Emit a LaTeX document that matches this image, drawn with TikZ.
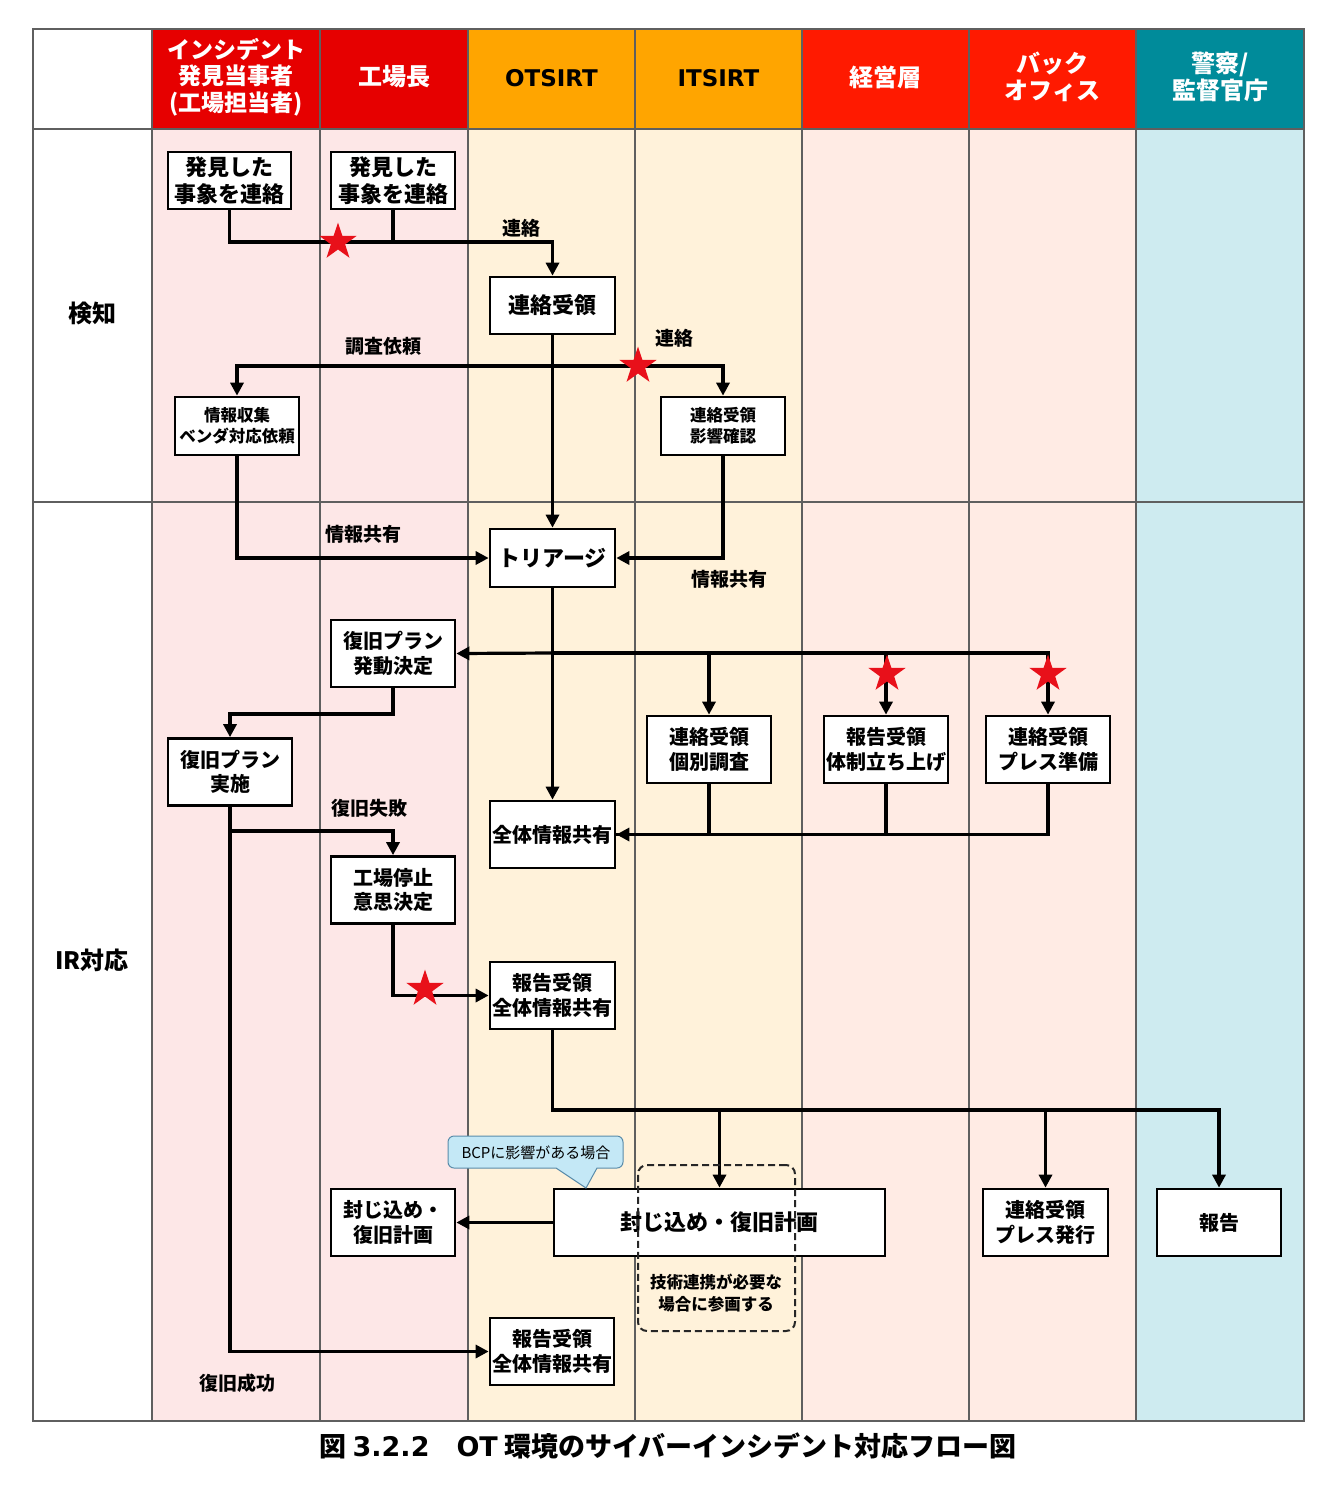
\documentclass[tikz,border=0pt]{standalone}
\usepackage{fontspec}
\newfontfamily\jp{Noto Sans CJK JP}
\newfontfamily\dv{DejaVu Sans}
\usetikzlibrary{arrows.meta,shapes.geometric}
\newcommand\fsz[2]{\fontsize{#1}{#2}\selectfont}
\definecolor{hred}{RGB}{230,0,0}
\definecolor{hredb}{RGB}{255,26,0}
\definecolor{horange}{RGB}{255,165,0}
\definecolor{hteal}{RGB}{0,139,154}
\definecolor{bpink}{RGB}{253,231,231}
\definecolor{bcream}{RGB}{255,242,218}
\definecolor{bsalmon}{RGB}{255,235,228}
\definecolor{bblue}{RGB}{206,235,240}
\definecolor{gridc}{RGB}{95,95,95}
\definecolor{starred}{RGB}{232,16,26}
\definecolor{calfill}{RGB}{196,232,246}
\definecolor{calborder}{RGB}{90,140,170}
\begin{document}
\begin{tikzpicture}[x=1pt,y=-1pt,
  hdrw/.style={font=\jp\bfseries\fsz{23}{26.5}, text=white, align=center},
  hdrk/.style={font=\dv\bfseries\fsz{23}{26}, text=black, align=center},
  rowlbl/.style={font=\jp\bfseries\fsz{24}{28}},
  boxst/.style={draw=black, line width=2.7pt, fill=white, align=center, inner sep=0pt,
                minimum width=124, minimum height=67, font=\jp\bfseries\fsz{20}{24.5}},
  smallbox/.style={boxst, minimum height=58, font=\jp\bfseries\fsz{16.5}{21}},
  lbl/.style={font=\jp\bfseries\fsz{19}{22}},
  conn/.style={line width=3.2pt},
  flow/.style={conn, -{Triangle[length=13pt,width=13pt]}},
  starmark/.style={star, star points=5, star point ratio=2.6, fill=starred, draw=none,
                   minimum size=39pt, inner sep=0pt},
  gridline/.style={draw=gridc, line width=1.2pt}
]
\useasboundingbox (0,0) rectangle (1336,1486);
\fill[white] (0,0) rectangle (1336,1486);

% ---- lane fills ----
\fill[white]   (33,29) rectangle (152,1421);
\fill[hred]    (152,29) rectangle (468,129);
\fill[horange] (468,29) rectangle (802,129);
\fill[hredb]   (802,29) rectangle (1136,129);
\fill[hteal]   (1136,29) rectangle (1304,129);
\fill[bpink]   (152,129) rectangle (468,1421);
\fill[bcream]  (468,129) rectangle (802,1421);
\fill[bsalmon] (802,129) rectangle (1136,1421);
\fill[bblue]   (1136,129) rectangle (1304,1421);

% ---- grid ----
\foreach \xx in {152,320,468,635,802,969,1136}
  \draw[gridline] (\xx,29) -- (\xx,1421);
\draw[gridline] (33,129) -- (1304,129);
\draw[gridline] (33,502) -- (1304,502);
\draw[gridline] (33,29) rectangle (1304,1421);

% ---- headers ----
\node[hdrw] (h1) at (236,77) {インシデント\\発見当事者\\(工場担当者)};
\node[hdrw, font=\jp\bfseries\fsz{24}{27}] (h2) at (394,77) {工場長};
\node[hdrk] (h3) at (551.5,78) {OTSIRT};
\node[hdrk] (h4) at (718.5,78) {ITSIRT};
\node[hdrw, font=\jp\bfseries\fsz{24}{27}] (h5) at (885.5,77) {経営層};
\node[hdrw, font=\jp\bfseries\fsz{24}{27}] (h6) at (1052.5,77) {バック\\オフィス};
\node[hdrw, font=\jp\bfseries\fsz{24}{27}] (h7) at (1220,77) {警察/\\監督官庁};

\node[rowlbl] (r1) at (92,313) {検知};
\node[rowlbl] (r2) at (92,960) {IR対応};

% ---- boxes ----
\node[boxst, minimum width=123, minimum height=57, font=\jp\bfseries\fsz{22}{27}] (b1) at (229.5,180.5) {発見した\\事象を連絡};
\node[boxst, minimum width=124, minimum height=57, font=\jp\bfseries\fsz{22}{27}] (b2) at (393,180.5) {発見した\\事象を連絡};
\node[boxst, minimum width=125, minimum height=57, font=\jp\bfseries\fsz{22}{27}] (b3) at (552.5,305.5) {連絡受領};
\node[smallbox] (b4) at (237,426) {情報収集\\ベンダ対応依頼};
\node[smallbox] (b5) at (723,426) {連絡受領\\影響確認};
\node[boxst, minimum width=125, minimum height=58, font=\jp\bfseries\fsz{22}{27}] (b6) at (552.5,558) {トリアージ};
\node[boxst] (b7) at (393,653.5) {復旧プラン\\発動決定};
\node[boxst] (b8) at (230,772) {復旧プラン\\実施};
\node[boxst, minimum width=125] (b9) at (552.5,834.5) {全体情報共有};
\node[boxst] (b10) at (709,749.5) {連絡受領\\個別調査};
\node[boxst] (b11) at (886,749.5) {報告受領\\体制立ち上げ};
\node[boxst] (b12) at (1048,749.5) {連絡受領\\プレス準備};
\node[boxst] (b13) at (393,890) {工場停止\\意思決定};
\node[boxst, minimum width=125] (b14) at (552.5,995.5) {報告受領\\全体情報共有};
\node[boxst] (b15) at (393,1222.5) {封じ込め・\\復旧計画};
\node[boxst, minimum width=331, font=\jp\bfseries\fsz{22}{27}] (b16) at (719.5,1222.5) {封じ込め・復旧計画};
\node[boxst, minimum width=125] (b17) at (1045.5,1222.5) {連絡受領\\プレス発行};
\node[boxst] (b18) at (1219,1222.5) {報告};
\node[boxst] (b19) at (552,1351.5) {報告受領\\全体情報共有};

% ---- junctions ----
\coordinate (j1) at (393,242);
\coordinate (j2) at (552.5,366);
\coordinate (j4) at (552.5,653);
\coordinate (j5) at (393,714);
\coordinate (j6) at (230,831);
\coordinate (j7) at (552.5,1110);

% ---- connectors ----
\draw[conn] (b1.south) |- (j1);
\draw[flow] (b2.south) -- (j1) -| (b3.north);
\draw[flow] (b3.south) -- (b6.north);
\draw[flow] (j2) -| (b4.north);
\draw[flow] (j2) -| (b5.north);
\draw[flow] (b4.south) |- (b6.west);
\draw[flow] (b5.south) |- (b6.east);
\draw[flow] (b6.south) -- (b9.north);
\draw[flow] (j4) -- (b7.east);
\draw[flow] (j4) -| (b10.north);
\draw[flow] (j4) -| (b11.north);
\draw[flow] (j4) -| (b12.north);
\draw[conn] (b10.south) |- (b9.east);
\draw[conn] (b11.south) |- (b9.east);
\draw[flow] (b12.south) |- (b9.east);
\draw[flow] (b7.south) -- (j5) -| (b8.north);
\draw[flow] (b8.south) |- (b19.west);
\draw[flow] (j6) -| (b13.north);
\draw[flow] (b13.south) |- (b14.west);
\draw[flow] (b14.south) -- (j7) -| (b18.north);
\draw[flow] (j7) -| (b16.north);
\draw[flow] (j7) -| (b17.north);
\draw[flow] (b16.west) -- (b15.east);

% ---- stars ----
\node[starmark] (s1) at (338,242) {};
\node[starmark] (s2) at (638,366) {};
\node[starmark] (s3) at (887,674) {};
\node[starmark] (s4) at (1048,674) {};
\node[starmark] (s5) at (425,989) {};

% ---- labels ----
\node[lbl] (l1) at (521,228) {連絡};
\node[lbl] (l2) at (383,346) {調査依頼};
\node[lbl] (l3) at (674,338) {連絡};
\node[lbl] (l4) at (363,534) {情報共有};
\node[lbl] (l5) at (729,579) {情報共有};
\node[lbl] (l6) at (369,808) {復旧失敗};
\node[lbl] (l7) at (237,1383) {復旧成功};

% ---- callout ----
\draw[draw=calborder, fill=calfill, line width=1pt]
  (586,1188) -- (597,1168) [rounded corners=6pt] -- (623,1168) -- (623,1136)
  -- (448,1136) -- (448,1168) [sharp corners] -- (556,1168) -- cycle;
\node[font=\jp\fsz{15}{17}] (bcp) at (536,1153) {BCPに影響がある場合};

% ---- dashed group ----
\node[draw=black!85, dash pattern=on 7pt off 4pt, line width=2pt, rounded corners=9pt,
      minimum width=157, minimum height=166, inner sep=0pt] (grp) at (716.5,1248) {};
\node[font=\jp\bfseries\fsz{16.5}{22}, align=center] (grptxt) at (716,1293) {技術連携が必要な\\場合に参画する};

% ---- caption ----
\node[font=\jp\bfseries\fsz{27}{31}] (cap) at (668,1446)
  {図 {\dv\bfseries 3.2.2}　{\dv\bfseries OT} 環境のサイバーインシデント対応フロー図};
\end{tikzpicture}
\end{document}
